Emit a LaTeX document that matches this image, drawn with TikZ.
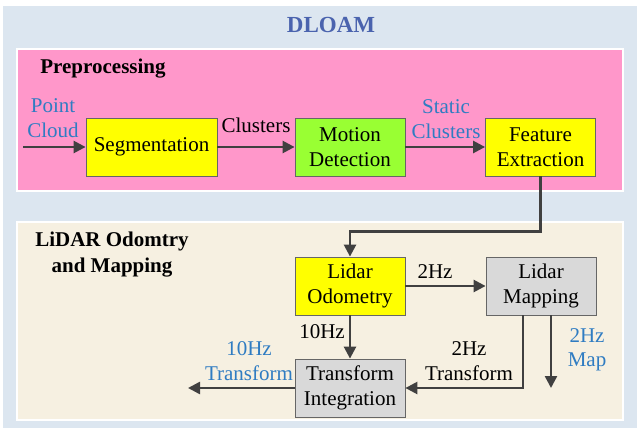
\documentclass[tikz,border=0pt]{standalone}
\usepackage{fontspec}
\setmainfont{Liberation Serif}
\usetikzlibrary{arrows.meta,calc}
\definecolor{bgblue}{HTML}{DCE6F0}
\definecolor{pinkbg}{HTML}{FF97CA}
\definecolor{beige}{HTML}{F6F0E1}
\definecolor{ttlblue}{HTML}{4A63AE}
\definecolor{lblblue}{HTML}{2F7CC2}
\definecolor{yel}{HTML}{FFFF00}
\definecolor{grn}{HTML}{99FF33}
\definecolor{gry}{HTML}{D9D9D9}
\definecolor{arrgray}{HTML}{404040}
\tikzset{
  box/.style={draw=gray!80!black, line width=0.8pt, minimum width=110pt, minimum height=58pt, align=center, inner sep=0pt, font=\fontsize{21}{24.5}\selectfont},
  lbl/.style={align=center, inner sep=0pt, font=\fontsize{21}{24.5}\selectfont},
  blbl/.style={lbl, text=lblblue},
  hdr/.style={align=center, inner sep=0pt, font=\fontsize{21}{26}\selectfont\bfseries},
  arr/.style={draw=arrgray, line width=2.5pt, -{Triangle[length=12pt,width=12pt]}},
  ln/.style={draw=arrgray, line width=2.5pt},
}
\begin{document}
\begin{tikzpicture}[x=1pt,y=-1pt]
\useasboundingbox (0,0) rectangle (637,428);
\fill[white] (0,0) rectangle (637,428);
\fill[bgblue] (3,6) rectangle (637,428);
\filldraw[fill=pinkbg, draw=white, line width=2pt] (17,49) rectangle (623,191);
\filldraw[fill=beige, draw=white, line width=2pt] (17,222) rectangle (623,420);

\node[hdr, text=ttlblue, font=\fontsize{23}{28}\selectfont\bfseries] (title) at (331,25) {DLOAM};
\node[hdr] (pre) at (103,69) {Preprocessing};
\node[hdr] (lom) at (112,255) {LiDAR Odomtry\\and Mapping};

\node[box, fill=yel, minimum width=131pt] (seg) at (151.5,147) {Segmentation};
\node[box, fill=grn] (md) at (350,147) {Motion\\Detection};
\node[box, fill=yel] (fe) at (540.5,147) {Feature\\Extraction};
\node[box, fill=yel] (lo) at (350,286) {Lidar\\Odometry};
\node[box, fill=gry] (lm) at (541,286) {Lidar\\Mapping};
\node[box, fill=gry] (ti) at (350,388) {Transform\\Integration};

\coordinate (pcin) at (23,147);
\coordinate (tiout) at (188,388);
\coordinate (mapout) at (551,388);

\node[blbl] (pc) at (53,118) {Point\\Cloud};
\node[lbl] (cl) at (256,125) {Clusters};
\node[blbl] (sc) at (446,119) {Static\\Clusters};
\node[lbl] (hz2) at (435,272) {2Hz};
\node[lbl] (hz10) at (322,332) {10Hz};
\node[blbl] (tr10) at (249,361) {10Hz\\Transform};
\node[lbl] (tr2) at (469,361) {2Hz\\Transform};
\node[blbl] (map2) at (587,350) {2Hz\\Map};

\draw[arr] (pcin) -- (seg.west);
\draw[arr] (seg.east) -- (md.west);
\draw[arr] (md.east) -- (fe.west);
\draw[arr] (fe.south) |- ($(lo.north)+(0,-25)$) -- (lo.north);
\draw[arr] (lo.east) -- (lm.west);
\draw[arr] (lo.south) -- (ti.north);
\draw[arr] ($(lm.south)+(-18,0)$) |- (ti.east);
\draw[arr] ($(lm.south)+(10,0)$) -- (mapout);
\draw[arr] (ti.west) -- (tiout);
\end{tikzpicture}
\end{document}
